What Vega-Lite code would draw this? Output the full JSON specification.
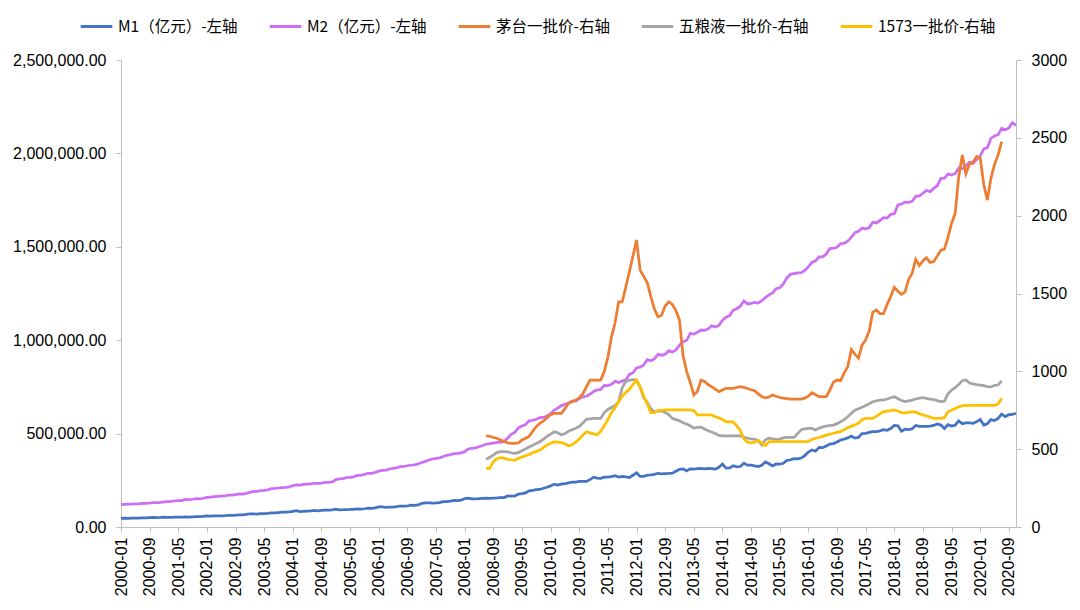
{
  "$schema": "https://vega.github.io/schema/vega-lite/v6.json",
  "width": 895,
  "height": 467,
  "autosize": {"type": "none"},
  "padding": {"left": 121, "top": 60, "right": 64, "bottom": 83},
  "background": "white",
  "config": {"view": {"stroke": null}, "axis": {"grid": false, "labelFlush": false, "labelOverlap": false}},
  "data": {"values": [
{"m":"2000-01","M1":45800,"M2":119900},{"m":"2000-02","M1":47000,"M2":121500},{"m":"2000-03","M1":45900,"M2":122000},{"m":"2000-04","M1":47300,"M2":122600},{"m":"2000-05","M1":47700,"M2":123500},{"m":"2000-06","M1":47800,"M2":124100},{"m":"2000-07","M1":49500,"M2":126600},{"m":"2000-08","M1":49200,"M2":126400},{"m":"2000-09","M1":49900,"M2":127800},{"m":"2000-10","M1":51000,"M2":130500},{"m":"2000-11","M1":50800,"M2":130000},{"m":"2000-12","M1":51500,"M2":131600},
{"m":"2001-01","M1":53100,"M2":134600},{"m":"2001-02","M1":51500,"M2":136000},{"m":"2001-03","M1":51700,"M2":136800},{"m":"2001-04","M1":52300,"M2":140000},{"m":"2001-05","M1":52600,"M2":141000},{"m":"2001-06","M1":52800,"M2":141800},{"m":"2001-07","M1":53800,"M2":147800},{"m":"2001-08","M1":53500,"M2":146800},{"m":"2001-09","M1":54400,"M2":148500},{"m":"2001-10","M1":55600,"M2":151800},{"m":"2001-11","M1":55000,"M2":150900},{"m":"2001-12","M1":56500,"M2":154000},
{"m":"2002-01","M1":59900,"M2":158300},{"m":"2002-02","M1":58000,"M2":160100},{"m":"2002-03","M1":58900,"M2":162000},{"m":"2002-04","M1":59700,"M2":164100},{"m":"2002-05","M1":59800,"M2":164900},{"m":"2002-06","M1":60500,"M2":166000},{"m":"2002-07","M1":62300,"M2":170900},{"m":"2002-08","M1":62100,"M2":170500},{"m":"2002-09","M1":63300,"M2":173000},{"m":"2002-10","M1":65400,"M2":176700},{"m":"2002-11","M1":65200,"M2":176500},{"m":"2002-12","M1":67200,"M2":179700},
{"m":"2003-01","M1":70900,"M2":185000},{"m":"2003-02","M1":70500,"M2":190300},{"m":"2003-03","M1":68900,"M2":190100},{"m":"2003-04","M1":71500,"M2":194500},{"m":"2003-05","M1":72000,"M2":196100},{"m":"2003-06","M1":73300,"M2":198900},{"m":"2003-07","M1":75900,"M2":204900},{"m":"2003-08","M1":75700,"M2":206200},{"m":"2003-09","M1":77400,"M2":208800},{"m":"2003-10","M1":79300,"M2":210500},{"m":"2003-11","M1":79200,"M2":211900},{"m":"2003-12","M1":80600,"M2":214500},
{"m":"2004-01","M1":84100,"M2":221200},{"m":"2004-02","M1":87000,"M2":225100},{"m":"2004-03","M1":81900,"M2":224800},{"m":"2004-04","M1":84300,"M2":227700},{"m":"2004-05","M1":85000,"M2":229600},{"m":"2004-06","M1":85800,"M2":230300},{"m":"2004-07","M1":88600,"M2":233600},{"m":"2004-08","M1":87000,"M2":233000},{"m":"2004-09","M1":88500,"M2":235000},{"m":"2004-10","M1":90400,"M2":238400},{"m":"2004-11","M1":89800,"M2":238400},{"m":"2004-12","M1":91400,"M2":241300},
{"m":"2005-01","M1":96000,"M2":254100},{"m":"2005-02","M1":92100,"M2":257700},{"m":"2005-03","M1":92600,"M2":259400},{"m":"2005-04","M1":93600,"M2":264600},{"m":"2005-05","M1":94000,"M2":266000},{"m":"2005-06","M1":94900,"M2":268500},{"m":"2005-07","M1":97300,"M2":275800},{"m":"2005-08","M1":96100,"M2":276900},{"m":"2005-09","M1":97700,"M2":281300},{"m":"2005-10","M1":100700,"M2":287400},{"m":"2005-11","M1":100000,"M2":287600},{"m":"2005-12","M1":102400,"M2":292300},
{"m":"2006-01","M1":107300,"M2":298800},{"m":"2006-02","M1":107300,"M2":303600},{"m":"2006-03","M1":104500,"M2":304500},{"m":"2006-04","M1":106700,"M2":310500},{"m":"2006-05","M1":107000,"M2":313700},{"m":"2006-06","M1":108800,"M2":316700},{"m":"2006-07","M1":112300,"M2":322800},{"m":"2006-08","M1":111500,"M2":324000},{"m":"2006-09","M1":112400,"M2":327900},{"m":"2006-10","M1":116800,"M2":331900},{"m":"2006-11","M1":115500,"M2":332700},{"m":"2006-12","M1":118300,"M2":337500},
{"m":"2007-01","M1":126000,"M2":345600},{"m":"2007-02","M1":128500,"M2":351500},{"m":"2007-03","M1":128500,"M2":358700},{"m":"2007-04","M1":127900,"M2":364100},{"m":"2007-05","M1":129000,"M2":367300},{"m":"2007-06","M1":130600,"M2":370300},{"m":"2007-07","M1":135900,"M2":377800},{"m":"2007-08","M1":136000,"M2":383900},{"m":"2007-09","M1":138400,"M2":387200},{"m":"2007-10","M1":142600,"M2":393100},{"m":"2007-11","M1":140900,"M2":394200},{"m":"2007-12","M1":143600,"M2":397000},
{"m":"2008-01","M1":152600,"M2":403400},{"m":"2008-02","M1":154900,"M2":417800},{"m":"2008-03","M1":150200,"M2":421000},{"m":"2008-04","M1":150900,"M2":423100},{"m":"2008-05","M1":151800,"M2":429300},{"m":"2008-06","M1":153300,"M2":436200},
{"m":"2008-07","M1":154800,"M2":443100,"mt":585,"wly":435,"g":377},{"m":"2008-08","M1":153400,"M2":446400,"mt":583,"wly":448,"g":377},{"m":"2008-09","M1":154800,"M2":448800,"mt":575,"wly":462,"g":420},{"m":"2008-10","M1":155700,"M2":452900,"mt":570,"wly":478,"g":438},{"m":"2008-11","M1":157200,"M2":453100,"mt":558,"wly":484,"g":446},{"m":"2008-12","M1":157800,"M2":458600,"mt":550,"wly":484,"g":442},
{"m":"2009-01","M1":166200,"M2":475200,"mt":540,"wly":482,"g":435},{"m":"2009-02","M1":165200,"M2":496100,"mt":538,"wly":477,"g":432},{"m":"2009-03","M1":166000,"M2":506700,"mt":538,"wly":473,"g":430},{"m":"2009-04","M1":176500,"M2":530600,"mt":540,"wly":478,"g":440},{"m":"2009-05","M1":178200,"M2":540500,"mt":559,"wly":490,"g":450},{"m":"2009-06","M1":182200,"M2":548300,"mt":570,"wly":502,"g":458},{"m":"2009-07","M1":193100,"M2":568900,"mt":582,"wly":514,"g":466},{"m":"2009-08","M1":195900,"M2":571200,"mt":615,"wly":525,"g":477},{"m":"2009-09","M1":200400,"M2":576700,"mt":645,"wly":537,"g":486},{"m":"2009-10","M1":201100,"M2":585400,"mt":666,"wly":548,"g":495},{"m":"2009-11","M1":207500,"M2":586600,"mt":682,"wly":565,"g":510},{"m":"2009-12","M1":212500,"M2":594600,"mt":700,"wly":582,"g":527},
{"m":"2010-01","M1":220000,"M2":606200,"mt":722,"wly":597,"g":538},{"m":"2010-02","M1":229600,"M2":625600,"mt":730,"wly":612,"g":546},{"m":"2010-03","M1":224300,"M2":636100,"mt":730,"wly":605,"g":545},{"m":"2010-04","M1":229500,"M2":649900,"mt":730,"wly":592,"g":542},{"m":"2010-05","M1":231600,"M2":656200,"mt":760,"wly":600,"g":535},{"m":"2010-06","M1":236400,"M2":663400,"mt":795,"wly":615,"g":522},{"m":"2010-07","M1":240600,"M2":673900,"mt":805,"wly":625,"g":528},{"m":"2010-08","M1":239900,"M2":674100,"mt":815,"wly":634,"g":545},{"m":"2010-09","M1":244300,"M2":687500,"mt":830,"wly":645,"g":566},{"m":"2010-10","M1":243800,"M2":696500,"mt":855,"wly":668,"g":590},{"m":"2010-11","M1":244100,"M2":699800,"mt":900,"wly":692,"g":612},{"m":"2010-12","M1":253700,"M2":710300,"mt":944,"wly":695,"g":605},
{"m":"2011-01","M1":266600,"M2":725800,"mt":944,"wly":698,"g":598},{"m":"2011-02","M1":261800,"M2":733900,"mt":944,"wly":698,"g":592},{"m":"2011-03","M1":260800,"M2":736100,"mt":944,"wly":698,"g":615},{"m":"2011-04","M1":266800,"M2":758100,"mt":1000,"wly":735,"g":650},{"m":"2011-05","M1":266800,"M2":757400,"mt":1090,"wly":755,"g":690},{"m":"2011-06","M1":269300,"M2":763400,"mt":1220,"wly":768,"g":735},{"m":"2011-07","M1":274700,"M2":780800,"mt":1310,"wly":780,"g":765},{"m":"2011-08","M1":267200,"M2":772900,"mt":1447,"wly":805,"g":805},{"m":"2011-09","M1":270700,"M2":780900,"mt":1447,"wly":895,"g":840},{"m":"2011-10","M1":268700,"M2":787400,"mt":1540,"wly":935,"g":865},{"m":"2011-11","M1":264800,"M2":816800,"mt":1640,"wly":944,"g":885},{"m":"2011-12","M1":276900,"M2":825500,"mt":1740,"wly":946,"g":915},
{"m":"2012-01","M1":289800,"M2":851600,"mt":1844,"wly":944,"g":944},{"m":"2012-02","M1":270900,"M2":855900,"mt":1650,"wly":900,"g":900},{"m":"2012-03","M1":271300,"M2":867200,"mt":1610,"wly":830,"g":840},{"m":"2012-04","M1":277200,"M2":895600,"mt":1570,"wly":800,"g":790},{"m":"2012-05","M1":278900,"M2":889600,"mt":1480,"wly":760,"g":735},{"m":"2012-06","M1":281800,"M2":900000,"mt":1400,"wly":740,"g":735},{"m":"2012-07","M1":287500,"M2":924500,"mt":1351,"wly":745,"g":748},{"m":"2012-08","M1":284600,"M2":918500,"mt":1360,"wly":745,"g":750},{"m":"2012-09","M1":285900,"M2":924900,"mt":1420,"wly":735,"g":752},{"m":"2012-10","M1":286800,"M2":943700,"mt":1447,"wly":722,"g":752},{"m":"2012-11","M1":288600,"M2":936400,"mt":1430,"wly":698,"g":752},{"m":"2012-12","M1":298900,"M2":947200,"mt":1390,"wly":690,"g":752},
{"m":"2013-01","M1":308700,"M2":974100,"mt":1330,"wly":682,"g":752},{"m":"2013-02","M1":311200,"M2":992100,"mt":1100,"wly":670,"g":752},{"m":"2013-03","M1":300000,"M2":998600,"mt":1000,"wly":662,"g":752},{"m":"2013-04","M1":310900,"M2":1035900,"mt":930,"wly":650,"g":752},{"m":"2013-05","M1":310400,"M2":1032600,"mt":848,"wly":636,"g":748},{"m":"2013-06","M1":312700,"M2":1042200,"mt":870,"wly":640,"g":720},{"m":"2013-07","M1":313500,"M2":1054400,"mt":944,"wly":642,"g":720},{"m":"2013-08","M1":310900,"M2":1052200,"mt":935,"wly":630,"g":720},{"m":"2013-09","M1":314100,"M2":1061300,"mt":915,"wly":618,"g":720},{"m":"2013-10","M1":312300,"M2":1077400,"mt":901,"wly":610,"g":720},{"m":"2013-11","M1":309900,"M2":1070200,"mt":885,"wly":600,"g":708},{"m":"2013-12","M1":319900,"M2":1079300,"mt":869,"wly":588,"g":700},
{"m":"2014-01","M1":337300,"M2":1106500,"mt":880,"wly":585,"g":690},{"m":"2014-02","M1":314900,"M2":1123500,"mt":891,"wly":585,"g":676},{"m":"2014-03","M1":316600,"M2":1131800,"mt":891,"wly":585,"g":676},{"m":"2014-04","M1":327700,"M2":1160700,"mt":891,"wly":585,"g":676},{"m":"2014-05","M1":322000,"M2":1168800,"mt":896,"wly":585,"g":650},{"m":"2014-06","M1":323800,"M2":1182300,"mt":901,"wly":585,"g":620},{"m":"2014-07","M1":341500,"M2":1209600,"mt":897,"wly":578,"g":565},{"m":"2014-08","M1":331300,"M2":1194200,"mt":890,"wly":570,"g":545},{"m":"2014-09","M1":330900,"M2":1197400,"mt":882,"wly":566,"g":540},{"m":"2014-10","M1":327200,"M2":1202100,"mt":875,"wly":564,"g":545},{"m":"2014-11","M1":324000,"M2":1199200,"mt":855,"wly":555,"g":555},{"m":"2014-12","M1":330900,"M2":1211100,"mt":837,"wly":527,"g":540},
{"m":"2015-01","M1":348100,"M2":1228400,"mt":830,"wly":560,"g":522},{"m":"2015-02","M1":338300,"M2":1242700,"mt":835,"wly":570,"g":548},{"m":"2015-03","M1":326600,"M2":1252800,"mt":848,"wly":566,"g":548},{"m":"2015-04","M1":337200,"M2":1275300,"mt":840,"wly":563,"g":548},{"m":"2015-05","M1":336000,"M2":1280100,"mt":832,"wly":565,"g":548},{"m":"2015-06","M1":341000,"M2":1301100,"mt":828,"wly":572,"g":548},{"m":"2015-07","M1":356100,"M2":1333400,"mt":825,"wly":576,"g":548},{"m":"2015-08","M1":360100,"M2":1353200,"mt":822,"wly":576,"g":548},{"m":"2015-09","M1":366200,"M2":1356900,"mt":822,"wly":576,"g":548},{"m":"2015-10","M1":364400,"M2":1359800,"mt":822,"wly":600,"g":548},{"m":"2015-11","M1":369000,"M2":1361000,"mt":822,"wly":625,"g":548},{"m":"2015-12","M1":382300,"M2":1374000,"mt":828,"wly":630,"g":548},
{"m":"2016-01","M1":401000,"M2":1392300,"mt":840,"wly":634,"g":550},{"m":"2016-02","M1":412000,"M2":1416300,"mt":863,"wly":634,"g":562},{"m":"2016-03","M1":405800,"M2":1424800,"mt":850,"wly":623,"g":570},{"m":"2016-04","M1":426100,"M2":1446200,"mt":837,"wly":635,"g":575},{"m":"2016-05","M1":424500,"M2":1446200,"mt":837,"wly":643,"g":582},{"m":"2016-06","M1":433900,"M2":1461100,"mt":837,"wly":648,"g":590},{"m":"2016-07","M1":443600,"M2":1490500,"mt":880,"wly":652,"g":596},{"m":"2016-08","M1":446700,"M2":1492400,"mt":930,"wly":655,"g":602},{"m":"2016-09","M1":455100,"M2":1497800,"mt":944,"wly":664,"g":608},{"m":"2016-10","M1":466000,"M2":1516400,"mt":940,"wly":676,"g":613},{"m":"2016-11","M1":470700,"M2":1519600,"mt":990,"wly":690,"g":625},{"m":"2016-12","M1":477100,"M2":1530400,"mt":1030,"wly":708,"g":638},
{"m":"2017-01","M1":486600,"M2":1550100,"mt":1140,"wly":730,"g":648},{"m":"2017-02","M1":475600,"M2":1575900,"mt":1110,"wly":750,"g":656},{"m":"2017-03","M1":479600,"M2":1582900,"mt":1084,"wly":760,"g":667},{"m":"2017-04","M1":500000,"M2":1599600,"mt":1170,"wly":770,"g":690},{"m":"2017-05","M1":500900,"M2":1596300,"mt":1201,"wly":780,"g":698},{"m":"2017-06","M1":506500,"M2":1601400,"mt":1260,"wly":792,"g":698},{"m":"2017-07","M1":510200,"M2":1631300,"mt":1380,"wly":805,"g":698},{"m":"2017-08","M1":510200,"M2":1627600,"mt":1394,"wly":810,"g":712},{"m":"2017-09","M1":514800,"M2":1641300,"mt":1370,"wly":815,"g":727},{"m":"2017-10","M1":520600,"M2":1655700,"mt":1370,"wly":816,"g":741},{"m":"2017-11","M1":517900,"M2":1653400,"mt":1430,"wly":822,"g":745},{"m":"2017-12","M1":526900,"M2":1674000,"mt":1480,"wly":830,"g":748},
{"m":"2018-01","M1":543800,"M2":1676800,"mt":1540,"wly":837,"g":752},{"m":"2018-02","M1":542000,"M2":1723800,"mt":1515,"wly":825,"g":745},{"m":"2018-03","M1":513000,"M2":1729000,"mt":1495,"wly":812,"g":735},{"m":"2018-04","M1":523500,"M2":1739300,"mt":1510,"wly":805,"g":733},{"m":"2018-05","M1":521200,"M2":1737700,"mt":1590,"wly":810,"g":737},{"m":"2018-06","M1":526100,"M2":1743100,"mt":1630,"wly":815,"g":741},{"m":"2018-07","M1":543900,"M2":1770200,"mt":1720,"wly":822,"g":738},{"m":"2018-08","M1":538800,"M2":1772600,"mt":1680,"wly":828,"g":728},{"m":"2018-09","M1":539000,"M2":1786600,"mt":1710,"wly":831,"g":720},{"m":"2018-10","M1":538600,"M2":1801700,"mt":1730,"wly":826,"g":713},{"m":"2018-11","M1":540400,"M2":1795600,"mt":1700,"wly":821,"g":706},{"m":"2018-12","M1":543500,"M2":1812800,"mt":1705,"wly":818,"g":698},
{"m":"2019-01","M1":551700,"M2":1826700,"mt":1740,"wly":812,"g":698},{"m":"2019-02","M1":545600,"M2":1865900,"mt":1779,"wly":805,"g":698},{"m":"2019-03","M1":527200,"M2":1867400,"mt":1785,"wly":808,"g":702},{"m":"2019-04","M1":547600,"M2":1889400,"mt":1860,"wly":855,"g":740},{"m":"2019-05","M1":540600,"M2":1884700,"mt":1950,"wly":880,"g":750},{"m":"2019-06","M1":545200,"M2":1891500,"mt":2015,"wly":895,"g":762},{"m":"2019-07","M1":567700,"M2":1921400,"mt":2250,"wly":915,"g":772},{"m":"2019-08","M1":553000,"M2":1917400,"mt":2390,"wly":940,"g":779},{"m":"2019-09","M1":557100,"M2":1932800,"mt":2270,"wly":945,"g":782},{"m":"2019-10","M1":557100,"M2":1952100,"mt":2330,"wly":925,"g":782},{"m":"2019-11","M1":555200,"M2":1946600,"mt":2345,"wly":920,"g":782},{"m":"2019-12","M1":563000,"M2":1967200,"mt":2380,"wly":915,"g":782},
{"m":"2020-01","M1":576000,"M2":1986500,"mt":2370,"wly":912,"g":782},{"m":"2020-02","M1":545500,"M2":2023100,"mt":2200,"wly":908,"g":782},{"m":"2020-03","M1":552700,"M2":2030800,"mt":2100,"wly":902,"g":782},{"m":"2020-04","M1":575100,"M2":2080900,"mt":2240,"wly":900,"g":782},{"m":"2020-05","M1":570200,"M2":2093500,"mt":2330,"wly":910,"g":782},{"m":"2020-06","M1":581100,"M2":2100200,"mt":2390,"wly":912,"g":790},{"m":"2020-07","M1":604300,"M2":2134900,"mt":2475,"wly":938,"g":827},{"m":"2020-08","M1":591200,"M2":2125500},{"m":"2020-09","M1":601300,"M2":2136800},{"m":"2020-10","M1":602300,"M2":2164100},{"m":"2020-11","M1":609200,"M2":2149700}
  ]},
  "encoding": {
    "x": {
      "field": "m", "type": "ordinal",
      "scale": {"type": "point", "padding": 0},
      "axis": {
        "title": null,
        "values": ["2000-01","2000-09","2001-05","2002-01","2002-09","2003-05","2004-01","2004-09","2005-05","2006-01","2006-09","2007-05","2008-01","2008-09","2009-05","2010-01","2010-09","2011-05","2012-01","2012-09","2013-05","2014-01","2014-09","2015-05","2016-01","2016-09","2017-05","2018-01","2018-09","2019-05","2020-01","2020-09"],
        "labelAngle": -90,
        "labelFont": "Liberation Sans", "labelFontSize": 16, "labelColor": "#000000",
        "domainColor": "#BFBFBF", "tickColor": "#BFBFBF", "tickSize": 5, "labelPadding": 5
      }
    },
    "color": {
      "field": "k", "type": "nominal",
      "scale": {"domain": ["M1","M2","mt","wly","g"], "range": ["#4472C4","#CC6FF5","#ED7D31","#A5A5A5","#FFC000"]},
      "legend": {
        "title": null, "orient": "none", "legendX": -42, "legendY": -51,
        "direction": "horizontal", "columns": 5, "columnPadding": 25,
        "symbolType": "stroke", "symbolSize": 1000, "symbolStrokeWidth": 3,
        "labelFont": "Noto Sans CJK SC", "labelFontSize": 15.5, "labelColor": "#000000", "labelOffset": 4, "labelLimit": 300,
        "labelExpr": "{'M1':'M1（亿元）-左轴','M2':'M2（亿元）-左轴','mt':'茅台一批价-右轴','wly':'五粮液一批价-右轴','g':'1573一批价-右轴'}[datum.label]"
      }
    }
  },
  "layer": [
    {
      "transform": [{"fold": ["M1","M2"], "as": ["k","v"]}],
      "mark": {"type": "line", "strokeWidth": 2.75},
      "encoding": {
        "y": {
          "field": "v", "type": "quantitative",
          "scale": {"domain": [0, 2500000], "nice": false},
          "axis": {
            "orient": "left", "title": null,
            "values": [0,500000,1000000,1500000,2000000,2500000], "format": ",.2f",
            "labelFont": "Liberation Sans", "labelFontSize": 16, "labelColor": "#000000",
            "domainColor": "#BFBFBF", "tickColor": "#BFBFBF", "tickSize": 5, "labelPadding": 10
          }
        }
      }
    },
    {
      "transform": [{"fold": ["mt","wly","g"], "as": ["k","v"]}, {"filter": "isValid(datum.v)"}],
      "mark": {"type": "line", "strokeWidth": 2.75},
      "encoding": {
        "y": {
          "field": "v", "type": "quantitative",
          "scale": {"domain": [0, 3000], "nice": false},
          "axis": {
            "orient": "right", "title": null,
            "values": [0,500,1000,1500,2000,2500,3000], "format": "d",
            "labelFont": "Liberation Sans", "labelFontSize": 16, "labelColor": "#000000",
            "domainColor": "#BFBFBF", "tickColor": "#BFBFBF", "tickSize": 5, "labelPadding": 10
          }
        }
      }
    }
  ],
  "resolve": {"scale": {"y": "independent"}}
}
